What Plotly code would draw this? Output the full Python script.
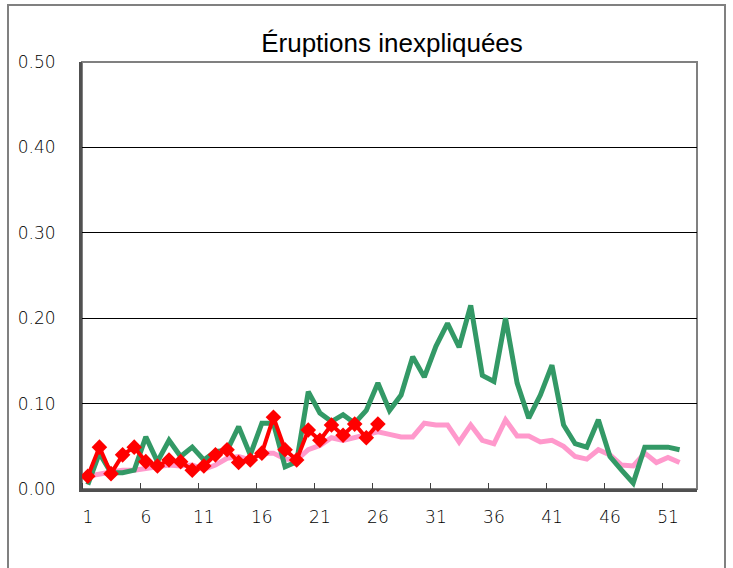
import plotly.graph_objects as go

weeks = list(range(1, 53))
green_vals = [0.005, 0.042, 0.019, 0.019, 0.022, 0.061, 0.032, 0.057, 0.038, 0.049,
              0.034, 0.044, 0.045, 0.073, 0.040, 0.077, 0.077, 0.026, 0.032, 0.114,
              0.089, 0.079, 0.087, 0.077, 0.092, 0.124, 0.092, 0.110, 0.155, 0.131,
              0.167, 0.194, 0.166, 0.215, 0.133, 0.126, 0.200, 0.124, 0.083, 0.110,
              0.145, 0.075, 0.053, 0.049, 0.081, 0.038, 0.022, 0.007, 0.049, 0.049,
              0.049, 0.046]
pink_vals = [0.015, 0.018, 0.020, 0.022, 0.022, 0.024, 0.026, 0.028, 0.027, 0.028,
             0.023, 0.028, 0.036, 0.038, 0.034, 0.042, 0.042, 0.035, 0.034, 0.046,
             0.051, 0.060, 0.057, 0.060, 0.063, 0.067, 0.064, 0.061, 0.061, 0.077,
             0.075, 0.075, 0.055, 0.075, 0.057, 0.053, 0.081, 0.062, 0.062, 0.055,
             0.057, 0.050, 0.038, 0.035, 0.046, 0.040, 0.028, 0.027, 0.042, 0.031,
             0.037, 0.031]
red_vals = [0.015, 0.049, 0.018, 0.040, 0.049, 0.032, 0.027, 0.034, 0.032, 0.022,
            0.027, 0.040, 0.046, 0.031, 0.034, 0.042, 0.084, 0.046, 0.034, 0.069,
            0.057, 0.075, 0.063, 0.076, 0.060, 0.076]
x_labels = [1, 6, 11, 16, 21, 26, 31, 36, 41, 46, 51]
y_ticks = [0.0, 0.1, 0.2, 0.3, 0.4, 0.5]
title_text = "Éruptions inexpliquées"

TICK_FONT = "DejaVu Sans"
TITLE_FONT = "Liberation Sans"

fig = go.Figure()
fig.add_trace(go.Scatter(x=weeks, y=pink_vals, mode="lines",
                         line=dict(color="#FF99CC", width=5), showlegend=False))
fig.add_trace(go.Scatter(x=weeks, y=green_vals, mode="lines",
                         line=dict(color="#339966", width=5), showlegend=False))
fig.add_trace(go.Scatter(x=weeks[:len(red_vals)], y=red_vals, mode="lines+markers",
                         line=dict(color="#FF0000", width=4),
                         marker=dict(symbol="diamond", size=12, color="#FF0000"),
                         showlegend=False))

W, H = 733, 568
L, R, T, B = 82, 697, 62, 489
fig.update_layout(
    width=W, height=H,
    margin=dict(l=L, r=W - R, t=T, b=H - B),
    paper_bgcolor="white", plot_bgcolor="white",
    font=dict(family=TICK_FONT, size=17, color="black", weight=300),
    title=dict(text=title_text, x=392 / W, xanchor="center", y=1 - 52 / H, yanchor="bottom",
               font=dict(family=TITLE_FONT, size=26, color="black")),
    xaxis=dict(range=[0.5, 53.5], tickvals=x_labels, ticktext=[str(v) for v in x_labels],
               ticks="", showgrid=False, zeroline=False,
               showline=True, linecolor="#505050", linewidth=3, mirror=False,
               ticklabelstandoff=11,
               minor=dict(ticks="inside", tick0=0.5, dtick=5, ticklen=6, tickcolor="#404040",
                          tickwidth=1, showgrid=False)),
    yaxis=dict(range=[0, 0.5], tickvals=y_ticks, tickformat=".2f",
               ticks="", showgrid=True, gridcolor="black", gridwidth=1, zeroline=False,
               showline=True, linecolor="#505050", linewidth=3,
               ticklabelstandoff=20),
    shapes=[
        dict(type="rect", xref="paper", yref="paper", x0=0, x1=1, y0=0, y1=1,
             line=dict(color="#808080", width=2), layer="below"),
        dict(type="rect", xref="paper", yref="paper",
             x0=(8 - L) / (R - L), x1=(725 - L) / (R - L),
             y0=-0.5, y1=(B - 5) / (B - T),
             line=dict(color="#808080", width=2), layer="below"),
    ],
)

fig.write_html("out.html", config={"displayModeBar": False},
               post_script="document.body.style.margin='0px';")
